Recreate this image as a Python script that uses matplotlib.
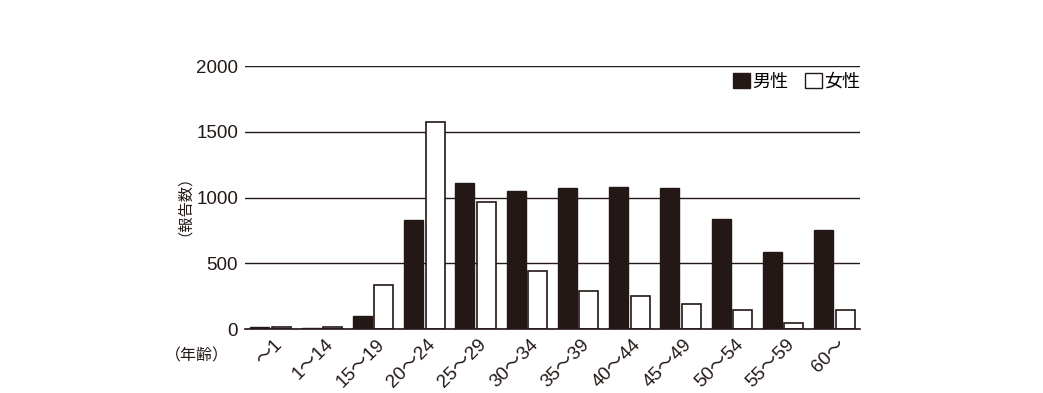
import matplotlib
matplotlib.use("Agg")
import matplotlib.pyplot as plt
import numpy as np
from matplotlib.patches import Patch

plt.rcParams['font.family'] = ['Liberation Sans', 'Noto Sans CJK JP', 'DejaVu Sans']

categories = ["〜1", "1〜14", "15〜19", "20〜24", "25〜29", "30〜34", "35〜39",
              "40〜44", "45〜49", "50〜54", "55〜59", "60〜"]
male = [15, 8, 98, 826, 1112, 1053, 1076, 1082, 1076, 840, 582, 756]
female = [12, 12, 333, 1573, 967, 444, 292, 254, 194, 148, 42, 148]
yticks = [0, 500, 1000, 1500, 2000]

dark = "#231815"

fig = plt.figure(figsize=(10.43, 3.93), dpi=100)
ax = fig.add_axes([0.2349, 0.1628, 0.8245 - 0.2349, 0.832 - 0.1628])

x = np.arange(len(categories))
w = 0.37
ax.bar(x - 0.21, male, width=w, color=dark, edgecolor=dark, linewidth=1.0, zorder=3)
ax.bar(x + 0.21, female, width=w, color="white", edgecolor=dark, linewidth=1.2, zorder=3)

ax.set_xlim(-0.5, len(categories) - 0.5)
ax.set_ylim(0, 2000)
ax.set_yticks(yticks)
ax.set_yticklabels([str(v) for v in yticks], fontsize=13.5, color=dark)
ax.tick_params(axis='y', length=0, pad=5)
ax.yaxis.grid(True, color=dark, linewidth=1.0, zorder=0)
ax.set_axisbelow(True)
for s in ['left', 'right', 'top']:
    ax.spines[s].set_visible(False)
ax.spines['bottom'].set_color(dark)
ax.spines['bottom'].set_linewidth(1.2)
ax.spines['bottom'].set_zorder(4)

ax.set_xticks(x + 0.05)
ax.set_xticklabels(categories, rotation=45, ha='right', rotation_mode='anchor',
                   fontsize=13.5, color=dark)
ax.tick_params(axis='x', length=0, pad=5)

fig.text(177 / 1043, 1 - 198 / 393, "（報告数）", rotation=90, ha='center', va='center',
         fontsize=11, color=dark)
fig.text(197 / 1043, 1 - 356 / 393, "（年齢）", ha='center', va='center',
         fontsize=11.5, color=dark)

handles = [Patch(facecolor=dark, edgecolor=dark, label="男性"),
           Patch(facecolor="white", edgecolor=dark, label="女性")]
ax.legend(handles=handles, loc='upper right', bbox_to_anchor=(1.0, 0.975), ncol=2,
          frameon=False, handlelength=0.95, handleheight=0.95, handletextpad=0.12,
          columnspacing=0.9, fontsize=13, borderaxespad=0, borderpad=0)

fig.savefig("out.png", dpi=100)
